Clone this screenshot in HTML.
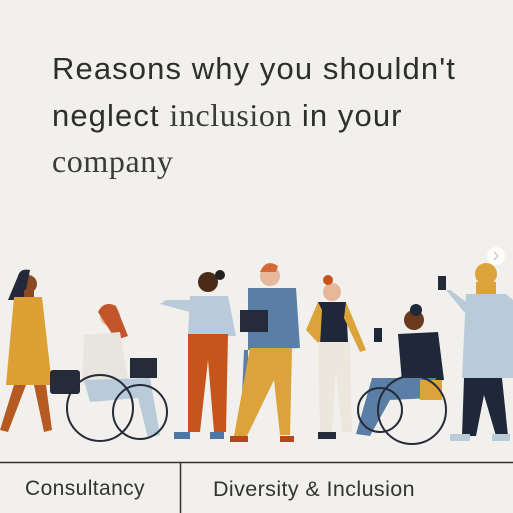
<!DOCTYPE html>
<html><head><meta charset="utf-8"><style>
body{margin:0;width:513px;height:513px;background:#f1f0ec;overflow:hidden;position:relative;font-family:"Liberation Sans",sans-serif;color:#2e2e2e}
.t{position:absolute;left:52px;font-size:31px;letter-spacing:1.1px;white-space:nowrap}
.s{font-family:"Liberation Serif",serif;font-size:32px;color:#3a3a3a;letter-spacing:0.6px}
.b{position:absolute;top:477px;font-size:21px;color:#333;letter-spacing:0.4px}
</style></head><body>
<div class="t" style="top:51px">Reasons why you shouldn't</div>
<div class="t" style="top:97px">neglect <span class="s">inclusion</span> in your</div>
<div class="t s" style="top:143px">company</div>
<svg width="513" height="513" style="position:absolute;left:0;top:0">
<g>
<circle cx="28" cy="284" r="9" fill="#8a4a24"/><path d="M18 276 Q20 268 30 270 L24 300 L8 300 Z" fill="#23293a"/>
<rect x="24" y="290" width="10" height="8" fill="#8a4a24"/>
<path d="M14 297 L42 297 L52 385 L6 385 Z" fill="#dda035"/>
<path d="M14 385 L0 430 L8 432 L26 385 Z M34 385 L44 432 L52 430 L46 385 Z" fill="#b55a22"/>
<rect x="50" y="370" width="30" height="24" rx="3" fill="#252b38"/></g>
<g>
<circle cx="110" cy="316" r="10" fill="#e6b79a"/><path d="M98 312 Q104 300 116 306 L128 336 L116 340 Z" fill="#c2552a"/>
<path d="M84 335 L120 332 L128 380 L82 385 Z" fill="#e8e5df"/>
<path d="M84 380 L150 378 L160 435 L148 438 L138 398 L90 402 Z" fill="#b9cbd9"/>
<rect x="130" y="358" width="27" height="20" fill="#252b38"/>
<circle cx="100" cy="408" r="33" fill="none" stroke="#252b38" stroke-width="2"/>
<circle cx="140" cy="412" r="27" fill="none" stroke="#252b38" stroke-width="2"/></g>
<g>
<circle cx="208" cy="282" r="10" fill="#4a2a18"/><circle cx="220" cy="275" r="5" fill="#222"/>
<path d="M190 296 L228 296 L236 336 L188 336 Z" fill="#b9cbd9"/>
<path d="M190 300 L166 300 L160 304 L190 312 Z" fill="#b9cbd9"/>
<path d="M188 334 L228 334 L226 432 L214 432 L208 360 L200 432 L188 432 Z" fill="#c7541c"/>
<rect x="174" y="432" width="16" height="7" fill="#4f77a5"/><rect x="210" y="432" width="14" height="7" fill="#4f77a5"/></g>
<g>
<circle cx="270" cy="276" r="10" fill="#e6b79a"/><path d="M260 272 Q266 258 278 266 L276 272 Z" fill="#d46a35"/>
<path d="M248 288 L296 288 L300 348 L244 350 L242 395 L248 395 Z" fill="#5b7ea7"/>
<path d="M250 348 L292 348 L290 435 L280 435 L274 380 L246 438 L234 436 Z" fill="#dba33a"/>
<rect x="240" y="310" width="28" height="22" fill="#252b38"/>
<rect x="230" y="436" width="18" height="6" fill="#b5461f"/><rect x="280" y="436" width="14" height="6" fill="#b5461f"/></g>
<g>
<circle cx="332" cy="292" r="9" fill="#e6b79a"/><circle cx="328" cy="280" r="5" fill="#c7541c"/>
<path d="M318 302 L346 302 L348 342 L320 342 Z" fill="#1f2838"/>
<path d="M318 302 L306 330 L320 345 L322 310 Z M346 302 L366 350 L360 352 L344 318 Z" fill="#dba33a"/>
<path d="M318 342 L350 342 L352 432 L342 432 L336 370 L332 432 L320 432 Z" fill="#ece7dd"/>
<rect x="318" y="432" width="18" height="7" fill="#252b38"/></g>
<g>
<circle cx="414" cy="320" r="10" fill="#6b3a1e"/><circle cx="416" cy="310" r="6" fill="#1f2838"/>
<path d="M398 334 L438 332 L444 380 L402 382 Z" fill="#1f2838"/>
<path d="M372 378 L436 378 L432 398 L390 400 L370 436 L356 434 Z" fill="#5b7ea7"/>
<rect x="374" y="328" width="8" height="14" fill="#1f2838"/>
<rect x="420" y="380" width="22" height="20" fill="#dba33a"/>
<circle cx="412" cy="410" r="34" fill="none" stroke="#252b38" stroke-width="2"/>
<circle cx="380" cy="410" r="22" fill="none" stroke="#252b38" stroke-width="2"/></g>
<g>
<circle cx="486" cy="274" r="11" fill="#dba33a"/><rect x="476" y="282" width="20" height="14" fill="#dba33a"/>
<path d="M466 294 L506 294 L513 300 L513 378 L462 378 Z" fill="#b9cbd9"/>
<path d="M446 290 L450 290 L472 306 L464 312 Z" fill="#b9cbd9"/>
<rect x="438" y="276" width="8" height="14" fill="#252b38"/>
<path d="M464 378 L502 378 L508 436 L496 436 L484 395 L476 436 L462 436 Z" fill="#1f2838"/>
<rect x="450" y="434" width="20" height="7" fill="#b9cbd9"/><rect x="492" y="434" width="18" height="7" fill="#b9cbd9"/></g>
<g>
<circle cx="496" cy="256" r="9" fill="#fff" opacity="0.8"/><path d="M494 252 L498 256 L494 260" stroke="#ccc" stroke-width="1.5" fill="none"/></g>
<line x1="0" y1="462.5" x2="513" y2="462.5" stroke="#333" stroke-width="1.5"/>
<line x1="180.5" y1="463" x2="180.5" y2="513" stroke="#333" stroke-width="1.5"/>
</svg>
<div class="b" style="left:25px">Consultancy</div>
<div class="b" style="left:213px;font-size:21.5px">Diversity &amp; Inclusion</div>
</body></html>
